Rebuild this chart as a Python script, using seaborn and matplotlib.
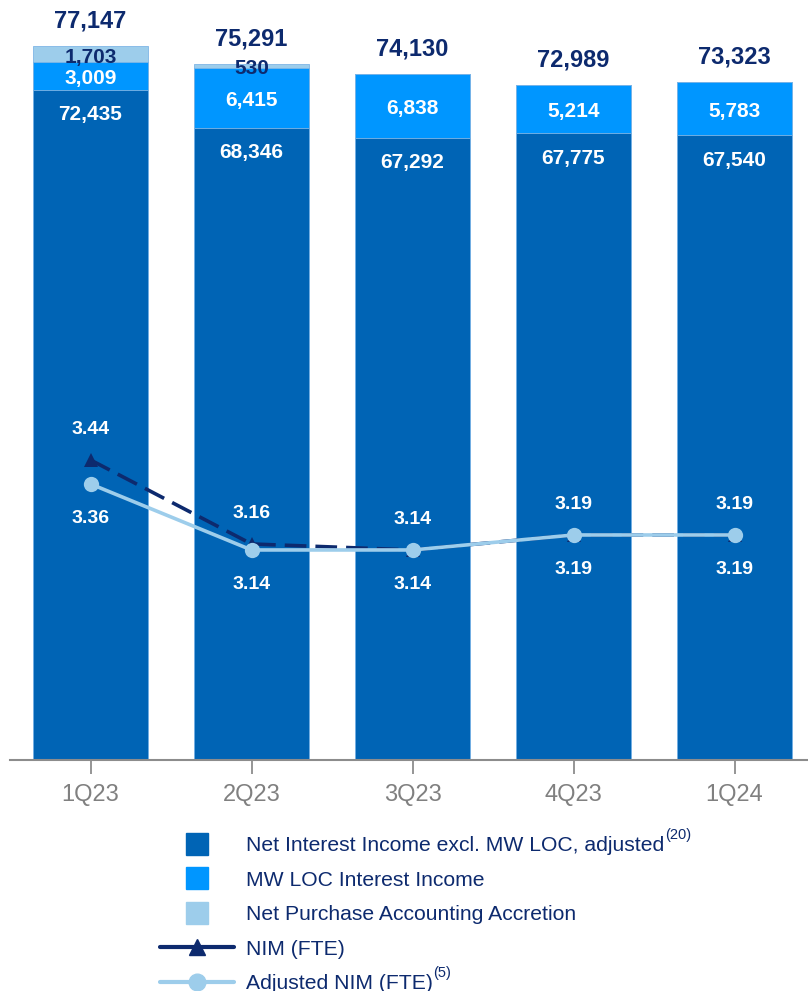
import numpy as np
import pandas as pd
import seaborn as sns
import matplotlib.pyplot as plt
from matplotlib.lines import Line2D

# Chart values
quarters = ["1Q23", "2Q23", "3Q23", "4Q23", "1Q24"]
nii_excl = [72435, 68346, 67292, 67775, 67540]
mw_loc = [3009, 6415, 6838, 5214, 5783]
accretion = [1703, 530, 0, 0, 0]
totals = [77147, 75291, 74130, 72989, 73323]
nim = [3.44, 3.16, 3.14, 3.19, 3.19]
adj_nim = [3.36, 3.14, 3.14, 3.19, 3.19]

DARK = "#0064B5"
BRIGHT = "#0096FF"
LIGHT = "#9DCDEB"
NAVY = "#0D2A6E"
GRAY = "#808080"

sns.set_style("white")
plt.rcParams["font.family"] = ["Liberation Sans", "DejaVu Sans"]

df = pd.DataFrame({"quarter": quarters, "nii": nii_excl, "mw": mw_loc, "acc": accretion})
df["lvl2"] = df["nii"] + df["mw"]
df["lvl3"] = df["lvl2"] + df["acc"]

W, H = 808, 991
fig = plt.figure(figsize=(W / 100, H / 100), dpi=100)
ax = fig.add_axes([10 / W, 231 / H, 805 / W, 760 / H])

# stacked bars: draw cumulative heights from tallest to shortest
for col, color in [("lvl3", LIGHT), ("lvl2", BRIGHT), ("nii", DARK)]:
    sns.barplot(data=df, x="quarter", y=col, color=color, width=0.72,
                saturation=1, edgecolor="#7FB6E6", linewidth=0.6, ax=ax)

ax.set_xlim(-0.5, 4.5)
ax.set_ylim(0, 82160)
ax.set_xlabel("")
ax.set_ylabel("")
ax.set_yticks([])
for s in ["left", "right", "top"]:
    ax.spines[s].set_visible(False)
ax.spines["bottom"].set_color("#8C8C8C")
ax.spines["bottom"].set_linewidth(1.5)
ax.tick_params(axis="x", bottom=True, length=10, width=1.3, color="#8C8C8C",
               labelsize=17, labelcolor=GRAY, pad=7)

# bar labels
for i in range(len(quarters)):
    ax.annotate(f"{nii_excl[i]:,}", (i, nii_excl[i]), xytext=(0, -18), textcoords="offset points",
                ha="center", va="center", color="white", fontsize=15, fontweight="bold")
    ax.annotate(f"{mw_loc[i]:,}", (i, nii_excl[i] + mw_loc[i] / 2), xytext=(0, -2),
                textcoords="offset points", ha="center", va="center",
                color="white", fontsize=15, fontweight="bold")
    if accretion[i] > 0:
        ax.annotate(f"{accretion[i]:,}", (i, nii_excl[i] + mw_loc[i] + accretion[i] / 2),
                    xytext=(0, -2), textcoords="offset points", ha="center", va="center",
                    color=NAVY, fontsize=15, fontweight="bold")
    ax.annotate(f"{totals[i]:,}", (i, totals[i]), xytext=(0, 18), textcoords="offset points",
                ha="center", va="center", color=NAVY, fontsize=17, fontweight="bold")

# NIM lines on a secondary axis
ax2 = ax.twinx()
lines = pd.DataFrame({"pos": np.arange(len(quarters)), "nim": nim, "adj": adj_nim})
sns.lineplot(data=lines, x="pos", y="nim", ax=ax2, color=NAVY, linewidth=2.6,
             linestyle=(0, (6, 2.5)), marker="^", markersize=10, markeredgewidth=0, sort=False)
sns.lineplot(data=lines, x="pos", y="adj", ax=ax2, color=LIGHT, linewidth=2.6,
             marker="o", markersize=11, markeredgewidth=0, sort=False)
ax2.set_ylim(2.44, 4.973)
ax2.set_xlim(-0.5, 4.5)
ax2.set_yticks([])
ax2.set_ylabel("")
ax2.set_xlabel("")
for s in ax2.spines.values():
    s.set_visible(False)

for i in range(len(quarters)):
    ax2.annotate(f"{nim[i]:.2f}", (i, max(nim[i], adj_nim[i])), xytext=(0, 22),
                 textcoords="offset points", ha="center", va="center", color="white",
                 fontsize=14, fontweight="bold")
    ax2.annotate(f"{adj_nim[i]:.2f}", (i, adj_nim[i]), xytext=(0, -25),
                 textcoords="offset points", ha="center", va="center", color="white",
                 fontsize=14, fontweight="bold")

# legend
handles = [
    Line2D([], [], linestyle="none", marker="s", markersize=16, color=DARK),
    Line2D([], [], linestyle="none", marker="s", markersize=16, color=BRIGHT),
    Line2D([], [], linestyle="none", marker="s", markersize=16, color=LIGHT),
    Line2D([], [], color=NAVY, linewidth=3, marker="^", markersize=12),
    Line2D([], [], color=LIGHT, linewidth=3, marker="o", markersize=12),
]
labels = [
    "Net Interest Income excl. MW LOC, adjusted",
    "MW LOC Interest Income",
    "Net Purchase Accounting Accretion",
    "NIM (FTE)",
    "Adjusted NIM (FTE)",
]
leg = fig.legend(handles, labels, loc="upper left", bbox_to_anchor=(160 / W, 1 - 836 / H),
                 frameon=False, fontsize=15.2, handlelength=3.5, handletextpad=0.55,
                 labelspacing=0.74, borderpad=0, borderaxespad=0)
for t in leg.get_texts():
    t.set_color(NAVY)

# footnote superscripts after the first and last legend labels
fig.canvas.draw()
for idx, note in [(0, "(20)"), (4, "(5)")]:
    bb = leg.get_texts()[idx].get_window_extent()
    fig.text((bb.x1 + 1) / W, (bb.y1 - 6) / H, note, fontsize=10.5, color=NAVY,
             ha="left", va="bottom")

fig.savefig("out.png", dpi=100)
